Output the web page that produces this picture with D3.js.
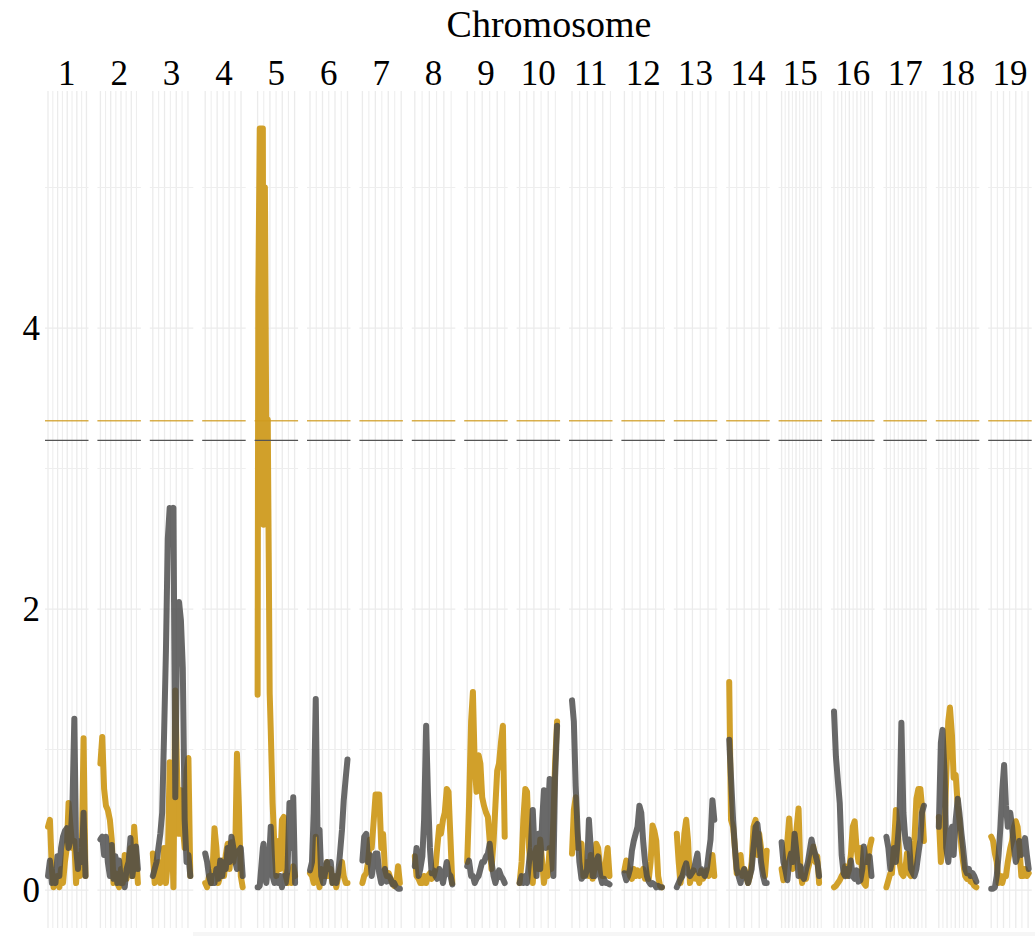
<!DOCTYPE html>
<html>
<head>
<meta charset="utf-8">
<script src="https://cdn.jsdelivr.net/npm/d3@7"></script>
<style>
  html, body { margin: 0; padding: 0; background: #ffffff; }
  svg { display: block; }
</style>
</head>
<body>
<svg id="chart" width="1035" height="936"></svg>
<script>
// ---------------- DATA ----------------
const chromosomes = ["1","2","3","4","5","6","7","8","9","10","11","12","13","14","15","16","17","18","19"];
const chromLengthMb = [195,182,160,157,152,150,145,129,125,131,122,120,120,125,104,98,95,91,61];
const yTickValues = [0, 2, 4];
const thresholdGold = 3.34;
const thresholdGray = 3.20;
const xTitle = "Chromosome";

// marker positions (Mb) per chromosome
const positionsMb = [
  [0,10,20,29,39,49,59,68,78,88,98,107,117,127,137,146,156,166,176,185,195],
  [0,9,18,27,36,46,55,64,73,82,91,100,109,118,127,137,146,155,164,173,182],
  [0,8,16,24,32,40,48,56,64,72,80,88,96,104,112,120,128,136,144,152,160],
  [0,8,16,24,31,39,47,55,63,71,79,86,94,102,110,118,126,133,141,149,157],
  [0,2.8,8.7,21.3,24.1,29.6,35.1,41.1,45,49,53.3,60.8,68.3,76,83.7,91.2,98.7,106.4,114.1,121.6,129.1,136.8,144.5,152],
  [0,8,15,23,30,38,45,53,60,68,75,83,90,98,105,113,120,128,135,143,150],
  [0,7,15,22,29,36,44,51,58,65,73,80,87,94,102,109,116,123,131,138,145],
  [0,6,13,19,26,32,39,45,52,58,65,71,77,84,90,97,103,110,116,123,129],
  [0,6,13,19,25,31,38,44,50,56,63,69,75,81,88,94,100,106,113,119,125],
  [0,7,13,20,26,33,39,46,52,59,66,72,79,85,92,98,105,111,118,124,131],
  [0,6,12,18,24,31,37,43,49,55,61,67,73,79,85,92,98,104,110,116,122],
  [0,6,12,18,24,30,36,42,48,54,60,66,72,78,84,90,96,102,108,114,120],
  [0,6,12,18,24,30,36,42,48,54,60,66,72,78,84,90,96,102,108,114,120],
  [0,6,13,19,25,31,38,44,50,56,63,69,75,81,88,94,100,106,113,119,125],
  [0,5,10,16,21,26,31,36,42,47,52,57,62,68,73,78,83,88,94,99,104],
  [0,5,10,15,20,25,29,34,39,44,49,54,59,64,69,74,78,83,88,93,98],
  [0,5,10,14,19,24,29,33,38,43,48,52,57,62,67,71,76,81,86,90,95],
  [0,5,9,14,18,23,27,32,36,41,46,50,55,59,64,68,73,77,82,86,91],
  [0,3,6,9,12,15,18,21,24,27,31,34,37,40,43,46,49,52,55,58,61]
];

// LOD scores, gold series
const lodGold = [
  [0.45,0.5,0.15,0.02,0.05,0.1,0.02,0.15,0.05,0.2,0.3,0.62,0.45,0.3,0.35,0.05,0.25,0.1,0.3,1.08,0.1],
  [0.9,1.09,0.72,0.6,0.57,0.5,0.36,0.05,0.12,0.05,0.02,0.15,0.05,0.25,0.08,0.2,0.3,0.1,0.45,0.26,0.05],
  [0.26,0.05,0.1,0.2,0.05,0.1,0.3,0.05,0.2,0.91,0.5,0.02,1.42,0.8,0.4,0.71,0.45,0.3,0.85,0.94,0.1],
  [0.05,0.02,0.1,0.05,0.15,0.44,0.3,0.05,0.1,0.21,0.1,0.25,0.33,0.15,0.34,0.2,0.3,0.97,0.6,0.1,0.02],
  [1.39,4.22,5.42,5.42,2.6,5.0,3.3,3.35,2.4,1.4,1.14,0.62,0.3,0.1,0.35,0.15,0.5,0.52,0.1,0.05,0.1,0.05,0.17,0.1],
  [0.12,0.1,0.05,0.38,0.1,0.02,0.15,0.1,0.1,0.2,0.1,0.15,0.05,0.1,0.02,0.1,0.15,0.2,0.1,0.05,0.05],
  [0.05,0.1,0.12,0.2,0.36,0.3,0.5,0.68,0.68,0.68,0.3,0.4,0.15,0.1,0.12,0.08,0.05,0.03,0.05,0.17,0.05],
  [0.24,0.1,0.08,0.05,0.05,0.1,0.05,0.1,0.12,0.08,0.1,0.15,0.3,0.45,0.4,0.5,0.55,0.72,0.7,0.35,0.05],
  [0.2,0.6,1.2,1.41,0.9,0.7,0.96,0.9,0.66,0.6,0.55,0.52,0.35,0.15,0.35,0.6,0.85,0.9,1.06,1.17,0.38],
  [0.05,0.2,0.5,0.72,0.7,0.3,0.15,0.05,0.25,0.3,0.15,0.36,0.2,0.05,0.15,0.1,0.3,0.15,0.5,0.9,1.2],
  [0.26,0.57,0.66,0.3,0.3,0.33,0.1,0.12,0.2,0.1,0.25,0.08,0.15,0.33,0.3,0.15,0.1,0.1,0.2,0.3,0.1],
  [0.14,0.21,0.15,0.1,0.08,0.15,0.1,0.14,0.1,0.12,0.15,0.08,0.1,0.08,0.2,0.46,0.42,0.35,0.1,0.03,0.02],
  [0.4,0.2,0.05,0.15,0.4,0.5,0.35,0.05,0.1,0.14,0.08,0.1,0.05,0.14,0.08,0.12,0.14,0.1,0.15,0.25,0.1],
  [1.48,0.5,0.45,0.3,0.12,0.15,0.25,0.1,0.15,0.1,0.05,0.1,0.2,0.45,0.5,0.25,0.4,0.3,0.15,0.1,0.28],
  [0.15,0.07,0.2,0.35,0.51,0.3,0.15,0.25,0.45,0.58,0.15,0.05,0.1,0.08,0.15,0.2,0.25,0.31,0.2,0.24,0.05],
  [0.02,0.03,0.05,0.07,0.1,0.12,0.17,0.1,0.14,0.25,0.45,0.49,0.3,0.2,0.3,0.1,0.05,0.03,0.2,0.3,0.36],
  [0.02,0.07,0.12,0.12,0.31,0.57,0.45,0.2,0.12,0.1,0.15,0.26,0.12,0.1,0.2,0.35,0.65,0.72,0.72,0.6,0.35],
  [0.52,0.2,0.3,0.45,0.8,1.2,1.3,1.1,0.8,0.82,0.6,0.5,0.3,0.2,0.1,0.08,0.1,0.06,0.05,0.03,0.02],
  [0.38,0.35,0.26,0.2,0.05,0.1,0.05,0.1,0.1,0.2,0.3,0.35,0.45,0.49,0.45,0.3,0.1,0.1,0.15,0.1,0.12]
];

// LOD scores, gray series
const lodGray = [
  [0.1,0.21,0.05,0.08,0.05,0.24,0.1,0.3,0.38,0.42,0.44,0.3,0.35,0.6,1.22,0.3,0.15,0.35,0.2,0.55,0.1],
  [0.36,0.38,0.25,0.38,0.2,0.1,0.32,0.08,0.24,0.05,0.21,0.05,0.1,0.02,0.15,0.2,0.37,0.1,0.2,0.31,0.15],
  [0.1,0.15,0.2,0.3,0.4,0.55,1.1,1.7,2.5,2.72,2.6,2.72,0.66,1.9,2.05,1.92,1.58,0.5,0.2,0.25,0.1],
  [0.26,0.2,0.1,0.05,0.1,0.05,0.15,0.08,0.21,0.1,0.2,0.15,0.3,0.2,0.38,0.3,0.2,0.15,0.28,0.3,0.1],
  [0.02,0.02,0.03,0.3,0.33,0.1,0.05,0.15,0.2,0.3,0.45,0.1,0.05,0.1,0.05,0.1,0.02,0.1,0.05,0.15,0.62,0.3,0.66,0.05],
  [0.14,0.2,0.55,1.36,0.4,0.43,0.1,0.05,0.12,0.2,0.15,0.2,0.05,0.1,0.05,0.12,0.26,0.43,0.64,0.8,0.93],
  [0.21,0.38,0.4,0.2,0.25,0.1,0.2,0.26,0.26,0.12,0.05,0.1,0.15,0.06,0.1,0.08,0.04,0.05,0.02,0.01,0.01],
  [0.17,0.3,0.1,0.15,0.24,0.5,1.17,0.7,0.3,0.12,0.14,0.1,0.08,0.15,0.12,0.05,0.12,0.2,0.12,0.1,0.04],
  [0.17,0.21,0.1,0.1,0.05,0.08,0.1,0.15,0.2,0.2,0.24,0.26,0.33,0.2,0.1,0.05,0.1,0.14,0.1,0.08,0.05],
  [0.05,0.1,0.05,0.1,0.05,0.2,0.3,0.57,0.3,0.1,0.4,0.15,0.5,0.71,0.3,0.5,0.79,0.3,0.1,0.8,1.17],
  [1.35,1.2,0.74,0.43,0.2,0.08,0.1,0.1,0.15,0.5,0.3,0.1,0.1,0.2,0.24,0.1,0.05,0.08,0.05,0.05,0.04],
  [0.12,0.07,0.1,0.15,0.28,0.35,0.4,0.45,0.6,0.55,0.35,0.2,0.1,0.06,0.04,0.05,0.04,0.02,0.03,0.02,0.02],
  [0.02,0.05,0.08,0.1,0.15,0.19,0.12,0.1,0.12,0.14,0.2,0.26,0.12,0.15,0.12,0.1,0.15,0.26,0.36,0.64,0.5],
  [1.07,0.8,0.5,0.3,0.15,0.1,0.05,0.12,0.15,0.1,0.05,0.1,0.15,0.3,0.45,0.47,0.35,0.2,0.1,0.05,0.05],
  [0.34,0.2,0.15,0.07,0.2,0.26,0.2,0.4,0.25,0.1,0.17,0.1,0.08,0.15,0.2,0.28,0.36,0.3,0.25,0.2,0.1],
  [1.27,0.95,0.78,0.62,0.25,0.12,0.1,0.15,0.1,0.21,0.1,0.08,0.14,0.06,0.07,0.15,0.31,0.2,0.2,0.24,0.1],
  [0.38,0.3,0.15,0.2,0.3,0.2,0.36,0.5,1.19,0.55,0.36,0.3,0.36,0.15,0.12,0.1,0.15,0.26,0.36,0.55,0.6],
  [0.45,1.05,1.14,0.83,0.3,0.2,0.35,0.45,0.25,0.5,0.65,0.55,0.4,0.3,0.15,0.12,0.15,0.1,0.12,0.1,0.06],
  [0.01,0.01,0.02,0.1,0.25,0.45,0.71,0.89,0.6,0.45,0.55,0.45,0.3,0.2,0.25,0.35,0.25,0.3,0.37,0.25,0.15]
];

// ---------------- DRAWING ----------------
const font = "'Liberation Serif','Times New Roman',Times,serif";
const goldColor = "#CF9B1F";
const grayColor = "#484848";
const gridColor = "#EBEBEB";
const lineWidth = 6;

const svg = d3.select("#chart");
const panelTop = 91, panelBottom = 928;

const band = d3.scaleBand()
  .domain(chromosomes)
  .range([45, 1031.7])
  .paddingInner(0.17)
  .paddingOuter(0);
const bw = band.bandwidth();

const y = d3.scaleLinear().domain([-0.27, 5.687]).range([panelBottom, panelTop]);

// faint strip at the very bottom (cut-off element in reference)
svg.append("rect").attr("x", 193).attr("y", 932).attr("width", 842).attr("height", 4)
  .attr("fill", "#F6F6F6");

// title
svg.append("text")
  .attr("x", 549).attr("y", 37)
  .attr("text-anchor", "middle")
  .style("font-family", font).style("font-size", "38px").attr("fill", "#000")
  .text(xTitle);

const hGrid = [0, 1, 2, 3, 4, 5];

chromosomes.forEach((c, i) => {
  const g = svg.append("g").attr("transform", `translate(${band(c)},0)`);
  const x = d3.scaleLinear().domain([0, chromLengthMb[i]]).range([3, bw - 3]);

  // vertical grid lines
  const lo = x.invert(0), hi = x.invert(bw);
  const majors = d3.ticks(lo, hi, 4).filter(v => v >= lo && v <= hi);
  const step = majors.length > 1 ? majors[1] - majors[0] : (hi - lo) / 4;
  const minors = [];
  for (let v = (majors[0] ?? lo) - step / 2; v <= hi; v += step) if (v >= lo) minors.push(v);

  g.selectAll("line.vmin").data(minors).join("line")
    .attr("x1", d => x(d)).attr("x2", d => x(d))
    .attr("y1", panelTop).attr("y2", panelBottom)
    .attr("stroke", "#EEEEEE").attr("stroke-width", 1.1);
  g.selectAll("line.vmaj").data(majors).join("line")
    .attr("x1", d => x(d)).attr("x2", d => x(d))
    .attr("y1", panelTop).attr("y2", panelBottom)
    .attr("stroke", gridColor).attr("stroke-width", 1.3);

  // horizontal grid lines
  g.selectAll("line.h").data(hGrid).join("line")
    .attr("x1", 0).attr("x2", bw)
    .attr("y1", d => y(d)).attr("y2", d => y(d))
    .attr("stroke", d => d % 2 === 0 ? gridColor : "#EEEEEE")
    .attr("stroke-width", d => d % 2 === 0 ? 1.3 : 1.1);

  const line = d3.line().x(d => x(d[0])).y(d => y(d[1]));
  const pos = positionsMb[i];
  const goldPts = pos.map((p, k) => [p, lodGold[i][k]]).filter(d => d[1] !== undefined);
  const grayPts = pos.map((p, k) => [p, lodGray[i][k]]).filter(d => d[1] !== undefined);

  g.append("path").datum(goldPts)
    .attr("d", line).attr("fill", "none")
    .attr("stroke", goldColor).attr("stroke-opacity", 0.95)
    .attr("stroke-width", lineWidth)
    .attr("stroke-linejoin", "round").attr("stroke-linecap", "round");

  g.append("path").datum(grayPts)
    .attr("d", line).attr("fill", "none")
    .attr("stroke", grayColor).attr("stroke-opacity", 0.82)
    .attr("stroke-width", lineWidth)
    .attr("stroke-linejoin", "round").attr("stroke-linecap", "round");

  // thresholds
  g.append("line").attr("x1", 0).attr("x2", bw)
    .attr("y1", y(thresholdGold)).attr("y2", y(thresholdGold))
    .attr("stroke", goldColor).attr("stroke-opacity", 0.8).attr("stroke-width", 1.3);
  g.append("line").attr("x1", 0).attr("x2", bw)
    .attr("y1", y(thresholdGray)).attr("y2", y(thresholdGray))
    .attr("stroke", "#555555").attr("stroke-width", 1.3);

  // strip label
  g.append("text")
    .attr("x", bw / 2).attr("y", 85)
    .attr("text-anchor", "middle")
    .style("font-family", font).style("font-size", "35px").attr("fill", "#000")
    .text(c);
});

// y axis
const yAxis = d3.axisLeft(y).tickValues(yTickValues).tickSize(0).tickPadding(5).tickFormat(d3.format("d"));
const ya = svg.append("g").attr("transform", "translate(45,0)").call(yAxis);
ya.select(".domain").remove();
ya.selectAll("text")
  .style("font-family", font).style("font-size", "35px").attr("fill", "#000");
</script>
</body>
</html>
